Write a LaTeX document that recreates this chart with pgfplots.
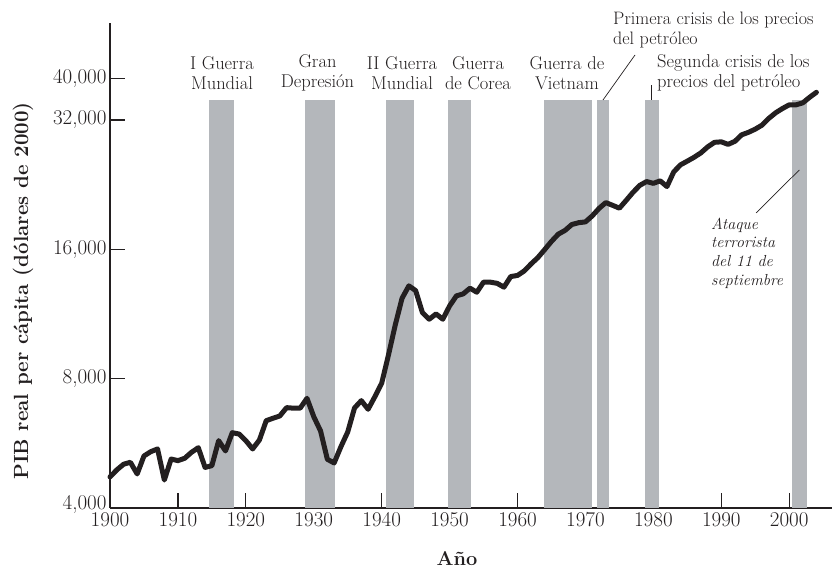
\documentclass[border=0pt]{standalone}
\usepackage{pgfplots}
\pgfplotsset{compat=1.18}

\definecolor{barra}{RGB}{180,183,187}
\definecolor{tinta}{RGB}{35,31,32}

\begin{document}
\begin{tikzpicture}
\useasboundingbox (-110pt,-61pt) rectangle (722pt,508pt);
\begin{axis}[
    at={(0pt,0pt)}, anchor=south west,
    scale only axis,
    width=722pt, height=485pt,
    xmin=1900, xmax=2006.3,
    ymode=log, ymin=4000, ymax=53800,
    axis lines=left,
    axis line style={-, line width=1.2pt, tinta},
    tick align=inside,
    major tick length=15pt,
    tick style={line width=1.2pt, tinta},
    minor tick num=0,
    xtick={1900,1910,...,2000},
    xticklabels={1900,1910,1920,1930,1940,1950,1960,1970,1980,1990,2000},
    ytick={4000,8000,16000,32000,40000},
    yticklabels={\raisebox{11pt}{4,000},{8,000},{16,000},{32,000},{40,000}},
    tick label style={font=\fontsize{21}{25}\selectfont, text=tinta},
    xticklabel style={yshift=-1pt},
    clip=false,
]
% periodos sombreados
\addplot[fill=barra, draw=none] coordinates {(1914.6,4000) (1914.6,35600) (1918.3,35600) (1918.3,4000)} -- cycle;
\addplot[fill=barra, draw=none] coordinates {(1928.7,4000) (1928.7,35600) (1933.1,35600) (1933.1,4000)} -- cycle;
\addplot[fill=barra, draw=none] coordinates {(1940.6,4000) (1940.6,35600) (1944.8,35600) (1944.8,4000)} -- cycle;
\addplot[fill=barra, draw=none] coordinates {(1949.7,4000) (1949.7,35600) (1953.2,35600) (1953.2,4000)} -- cycle;
\addplot[fill=barra, draw=none] coordinates {(1963.9,4000) (1963.9,35600) (1971.0,35600) (1971.0,4000)} -- cycle;
\addplot[fill=barra, draw=none] coordinates {(1971.7,4000) (1971.7,35600) (1973.5,35600) (1973.5,4000)} -- cycle;
\addplot[fill=barra, draw=none] coordinates {(1978.8,4000) (1978.8,35600) (1980.9,35600) (1980.9,4000)} -- cycle;
\addplot[fill=barra, draw=none] coordinates {(2000.4,4000) (2000.4,35600) (2002.6,35600) (2002.6,4000)} -- cycle;

% PIB real per capita
\addplot[tinta, line width=5pt, line join=round, line cap=round] table {
x y
1900 4724
1901 4905
1902 5057
1903 5110
1904 4800
1905 5285
1906 5409
1907 5488
1908 4647
1909 5200
1910 5155
1911 5221
1912 5391
1913 5525
1914 4971
1915 5019
1916 5738
1917 5430
1918 5988
1919 5946
1920 5738
1921 5488
1922 5759
1923 6386
1924 6470
1925 6550
1926 6848
1927 6830
1928 6830
1929 7201
1930 6525
1931 6044
1932 5193
1933 5091
1934 5556
1935 6011
1936 6837
1937 7111
1938 6788
1939 7264
1940 7806
1941 9083
1942 10668
1943 12309
1944 13151
1945 12823
1946 11393
1947 11000
1948 11314
1949 11000
1950 11811
1951 12465
1952 12598
1953 12988
1954 12712
1955 13416
1956 13416
1957 13330
1958 13060
1959 13824
1960 13909
1961 14252
1962 14795
1963 15305
1964 15976
1965 16692
1966 17350
1967 17705
1968 18274
1969 18450
1970 18532
1971 19136
1972 19920
1973 20550
1974 20248
1975 19944
1976 20796
1977 21708
1978 22536
1979 23000
1980 22780
1981 23088
1982 22392
1983 24228
1984 25156
1985 25663
1986 26192
1987 26828
1988 27700
1989 28380
1990 28456
1991 28072
1992 28532
1993 29545
1994 29944
1995 30460
1996 31124
1997 32276
1998 33244
1999 34016
2000 34696
2001 34696
2002 35068
2003 36120
2004 37108
};
\end{axis}

% rotulos de ejes
\node[rotate=90, font=\fontsize{20.5}{24}\selectfont\bfseries, text=tinta] at (-87pt,217pt) {PIB real per cápita (dólares de 2000)};
\node[font=\fontsize{20}{24}\selectfont\bfseries, text=tinta] at (347pt,-51pt) {Año};

% anotaciones
\tikzset{nota/.style={font=\fontsize{18.5}{20}\selectfont, text=tinta, inner sep=0pt}}
\node[nota, align=center] at (112pt,435pt) {I Guerra\\Mundial};
\node[nota, align=center] at (207.5pt,435pt) {Gran\\Depresión};
\node[nota, align=center] at (292pt,435pt) {II Guerra\\Mundial};
\node[nota, align=center] at (368pt,435pt) {Guerra\\de Corea};
\node[nota, align=center] at (457pt,435pt) {Guerra de\\Vietnam};
\node[nota, align=left, anchor=west, font=\fontsize{18}{19.5}\selectfont] at (503pt,478pt) {Primera crisis de los precios\\del petróleo};
\node[nota, align=left, anchor=west] at (547pt,435pt) {Segunda crisis de los\\precios del petróleo};
\node[font=\fontsize{16}{18.7}\selectfont\itshape, text=tinta, inner sep=0pt, align=left, anchor=west] at (601pt,255pt) {Ataque\\terrorista\\del 11 de\\septiembre};

% lineas guia
\draw[tinta, line width=0.7pt] (493pt,408pt) -- (525pt,453pt);
\draw[tinta, line width=0.7pt] (541.7pt,408pt) -- (541.7pt,423pt);
\draw[tinta, line width=0.7pt] (689.3pt,338pt) -- (646pt,295pt);
\end{tikzpicture}
\end{document}
